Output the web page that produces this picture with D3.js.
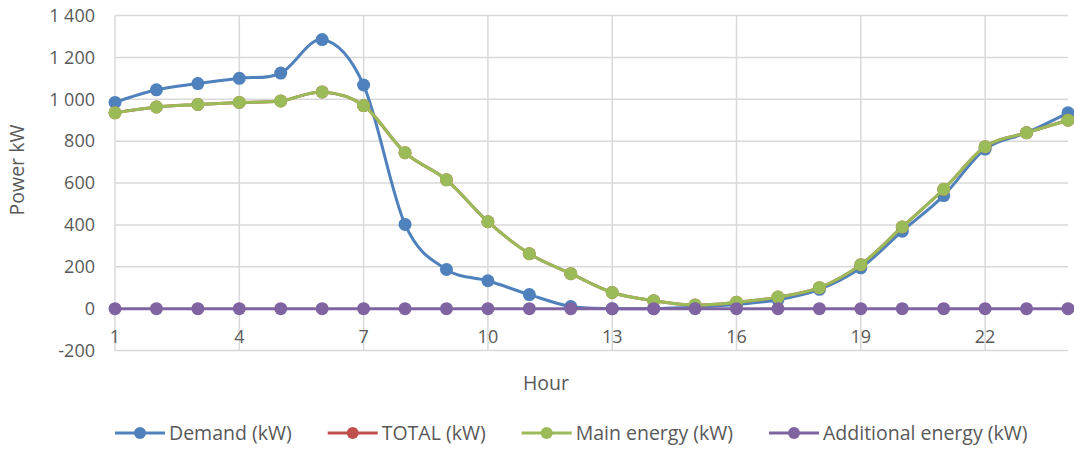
<!DOCTYPE html>
<html lang="en">
<meta charset="utf-8">
<head>
<title>Power by hour</title>
<style>
  body { margin: 0; background: #fff; }
  svg { display: block; font-family: "Open Sans", "Noto Sans", sans-serif; }
  .grid line { stroke: #d9d9d9; stroke-width: 1.5px; }
  .tick-label { fill: #595959; font-size: 18px; }
  .axis-title { fill: #595959; font-size: 19.5px; }
  .legend text { fill: #595959; font-size: 19.5px; }
  .series path { fill: none; stroke-width: 3px; }
</style>
</head>
<body>
<svg width="1074" height="449"></svg>
<script src="https://cdn.jsdelivr.net/npm/d3@7"></script>
<script>

// hours 1..24
var hours = d3.range(1, 25);

var demand = [985, 1045, 1075, 1100, 1125, 1285, 1068, 402, 187, 133, 67, 10,
              0, 0, 8, 20, 42, 92, 195, 370, 540, 762, 840, 935];
var mainEnergy = [935, 963, 975, 985, 992, 1035, 970, 745, 615, 415, 262, 167,
                  77, 38, 17, 30, 55, 100, 210, 390, 570, 773, 840, 900];
var total = mainEnergy.slice();
var additional = hours.map(function() { return 0; });

var seriesNames = ["Demand (kW)", "TOTAL (kW)", "Main energy (kW)", "Additional energy (kW)"];
var seriesColors = ["#4f81bd", "#c0504d", "#9bbb59", "#8064a2"];
var seriesValues = [demand, total, mainEnergy, additional];

var xTicks = [1, 4, 7, 10, 13, 16, 19, 22];
var yTicks = [-200, 0, 200, 400, 600, 800, 1000, 1200, 1400];

var svg = d3.select("svg");

var x = d3.scaleLinear().domain([1, 24]).range([115, 1068]);
var y = d3.scaleLinear().domain([-200, 1400]).range([350.5, 15.5]);

// "1 400" style, plain hyphen for negatives
var fmt = function(v) { return d3.format(",")(v).replace(/,/g, " ").replace("\u2212", "-"); };

// gridlines
var grid = svg.append("g").attr("class", "grid");
grid.selectAll(".h").data(yTicks).enter().append("line")
    .attr("x1", x(1)).attr("x2", x(24))
    .attr("y1", function(d) { return y(d); })
    .attr("y2", function(d) { return y(d); });
grid.selectAll(".v").data(xTicks).enter().append("line")
    .attr("x1", function(d) { return x(d); })
    .attr("x2", function(d) { return x(d); })
    .attr("y1", y(1400)).attr("y2", y(-200));

// y labels
svg.append("g").selectAll("text").data(yTicks).enter().append("text")
    .attr("class", "tick-label")
    .attr("x", 95)
    .attr("y", function(d) { return y(d); })
    .attr("dy", "0.35em")
    .attr("text-anchor", "end")
    .text(fmt);

// x labels (sit between 0 and -200)
svg.append("g").selectAll("text").data(xTicks).enter().append("text")
    .attr("class", "tick-label")
    .attr("x", function(d) { return x(d); })
    .attr("y", 337)
    .attr("dy", "0.35em")
    .attr("text-anchor", "middle")
    .text(function(d) { return d; });

svg.append("text")
    .attr("class", "axis-title")
    .attr("transform", "translate(24," + 170 + ") rotate(-90)")
    .attr("text-anchor", "middle")
    .text("Power kW");

svg.append("text")
    .attr("class", "axis-title")
    .attr("x", 546).attr("y", 383)
    .attr("dy", "0.35em")
    .attr("text-anchor", "middle")
    .text("Hour");

// series
var line = d3.line()
    .curve(d3.curveCatmullRom.alpha(0))
    .x(function(d, i) { return x(hours[i]); })
    .y(function(d) { return y(d); });

seriesValues.forEach(function(vals, k) {
  var g = svg.append("g").attr("class", "series");
  g.append("path")
      .attr("d", line(vals))
      .style("stroke", seriesColors[k]);
  g.selectAll("circle").data(vals).enter().append("circle")
      .attr("cx", function(d, i) { return x(hours[i]); })
      .attr("cy", function(d) { return y(d); })
      .attr("r", 6.5)
      .style("fill", seriesColors[k]);
});

// legend
var legend = svg.append("g").attr("class", "legend");
var lx = 115;
seriesNames.forEach(function(name, k) {
  var item = legend.append("g").attr("transform", "translate(" + lx + ",433)");
  item.append("line")
      .attr("x1", 0).attr("x2", 50)
      .style("stroke", seriesColors[k]).style("stroke-width", 3);
  item.append("circle").attr("cx", 25).attr("r", 6).style("fill", seriesColors[k]);
  var t = item.append("text")
      .attr("x", 54).attr("dy", "0.35em")
      .text(name);
  lx += 54 + t.node().getComputedTextLength() + 36;
});

</script>
</body>
</html>
